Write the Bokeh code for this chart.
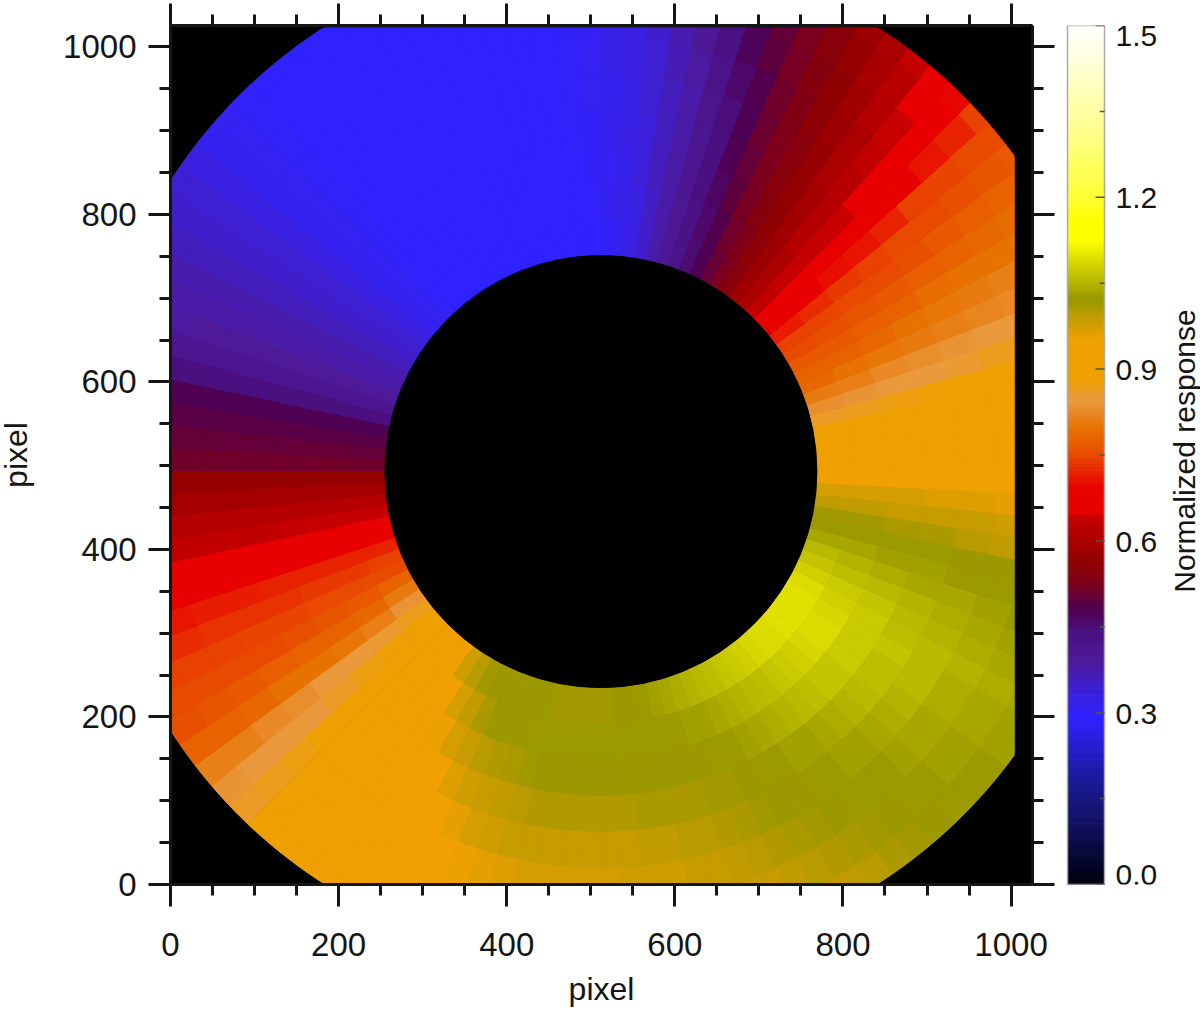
import numpy as np
from bokeh.core.properties import value
from bokeh.embed import file_html
from bokeh.layouts import row
from bokeh.models import ColumnDataSource, FixedTicker, LinearAxis, Range1d
from bokeh.plotting import figure
from bokeh.resources import INLINE
from bokeh.transform import linear_cmap

# Response: one row per 3 degree sector (counter-clockwise from +x),
# one column per ring going outward from the central disc.
sector_response = [
 [.93,.93,.93,.93,.93,.93,.93,.93,.93],
 [.92,.92,.92,.92,.92,.92,.92,.92,.92],
 [.905,.905,.91,.91,.91,.915,.92,.92,.92],
 [.885,.89,.89,.895,.90,.905,.91,.91,.915],
 [.865,.87,.875,.88,.885,.89,.895,.90,.90],
 [.836,.843,.85,.855,.86,.87,.875,.88,.885],
 [.81,.82,.83,.835,.84,.845,.85,.855,.86],
 [.79,.80,.805,.81,.82,.825,.83,.83,.835],
 [.78,.785,.79,.80,.805,.81,.815,.82,.82],
 [.77,.77,.775,.785,.795,.80,.80,.805,.81],
 [.755,.76,.765,.77,.775,.785,.79,.795,.80],
 [.74,.745,.75,.755,.76,.77,.775,.78,.785],
 [.71,.725,.735,.74,.75,.755,.76,.765,.77],
 [.675,.69,.70,.705,.72,.74,.745,.75,.755],
 [.66,.665,.67,.67,.67,.69,.705,.72,.74],
 [.63,.635,.635,.64,.645,.665,.67,.685,.695],
 [.60,.60,.61,.615,.62,.63,.64,.65,.665],
 [.575,.58,.585,.59,.60,.60,.61,.62,.635],
 [.545,.555,.56,.565,.57,.58,.585,.595,.60],
 [.525,.53,.54,.545,.55,.555,.56,.57,.58],
 [.50,.51,.52,.525,.53,.535,.54,.545,.555],
 [.48,.485,.495,.50,.505,.515,.52,.525,.53],
 [.455,.46,.465,.475,.48,.485,.495,.50,.51],
 [.425,.43,.44,.445,.45,.46,.47,.48,.48],
 [.40,.40,.405,.405,.415,.425,.435,.445,.455],
 [.375,.375,.375,.38,.38,.385,.395,.41,.42],
 [.35,.355,.36,.36,.36,.365,.37,.38,.39],
 [.33,.33,.335,.335,.34,.345,.35,.355,.365],
 [.315,.32,.32,.325,.325,.33,.33,.335,.34],
 [.30,.305,.31,.315,.315,.32,.32,.32,.325],
 [.29,.295,.30,.30,.305,.31,.31,.31,.315],
 [.29,.29,.29,.295,.295,.295,.30,.30,.30],
 [.29,.29,.29,.29,.29,.29,.29,.29,.29],
 [.29,.29,.29,.29,.29,.29,.29,.29,.29],
 [.29,.29,.29,.29,.29,.29,.29,.29,.29],
 [.29,.29,.29,.29,.29,.29,.29,.29,.29],
 [.29,.29,.29,.29,.29,.29,.29,.29,.29],
 [.29,.29,.29,.29,.29,.29,.29,.29,.29],
 [.29,.29,.29,.29,.29,.29,.29,.29,.29],
 [.29,.29,.29,.29,.29,.29,.29,.29,.29],
 [.29,.29,.29,.29,.29,.29,.29,.29,.29],
 [.29,.29,.29,.29,.29,.29,.29,.29,.29],
 [.29,.29,.29,.29,.29,.29,.29,.29,.29],
 [.29,.29,.29,.29,.29,.29,.29,.29,.29],
 [.295,.295,.295,.295,.295,.295,.295,.295,.295],
 [.305,.305,.305,.305,.305,.305,.305,.305,.305],
 [.315,.315,.315,.315,.315,.315,.315,.315,.315],
 [.33,.33,.33,.33,.33,.33,.33,.33,.33],
 [.34,.34,.34,.34,.34,.34,.34,.34,.34],
 [.35,.35,.35,.35,.35,.35,.35,.35,.35],
 [.36,.36,.36,.36,.36,.36,.36,.36,.36],
 [.37,.37,.37,.37,.37,.37,.37,.37,.37],
 [.38,.38,.38,.38,.38,.38,.38,.38,.38],
 [.39,.39,.39,.39,.39,.39,.385,.385,.385],
 [.41,.41,.41,.41,.41,.41,.41,.41,.41],
 [.44,.44,.44,.44,.44,.44,.44,.44,.44],
 [.48,.48,.48,.48,.48,.48,.48,.48,.48],
 [.49,.49,.49,.49,.49,.49,.49,.49,.49],
 [.50,.50,.50,.50,.50,.50,.50,.50,.50],
 [.515,.515,.515,.515,.515,.515,.515,.515,.515],
 [.57,.57,.57,.57,.57,.57,.57,.57,.57],
 [.59,.59,.59,.59,.59,.59,.59,.59,.59],
 [.61,.61,.61,.61,.61,.61,.61,.61,.61],
 [.635,.635,.635,.63,.63,.63,.625,.625,.625],
 [.665,.665,.665,.665,.665,.665,.665,.665,.665],
 [.69,.685,.68,.68,.675,.67,.67,.665,.665],
 [.72,.72,.715,.715,.71,.71,.705,.70,.70],
 [.74,.735,.735,.73,.73,.73,.725,.72,.72],
 [.755,.75,.75,.745,.745,.74,.74,.74,.735],
 [.78,.77,.765,.76,.755,.755,.75,.75,.75],
 [.81,.79,.785,.78,.775,.77,.765,.76,.76],
 [.84,.82,.805,.80,.80,.79,.785,.78,.775],
 [.87,.86,.85,.845,.835,.83,.82,.815,.81],
 [.895,.88,.875,.865,.855,.85,.845,.84,.835],
 [.92,.91,.90,.89,.885,.875,.87,.865,.86],
 [.93,.92,.92,.915,.91,.90,.89,.885,.885],
 [.935,.93,.925,.92,.92,.915,.91,.905,.905],
 [.95,.935,.93,.925,.92,.92,.92,.92,.92],
 [.98,.95,.935,.93,.925,.92,.92,.92,.92],
 [1.0,.975,.96,.94,.93,.925,.92,.92,.92],
 [1.015,.995,.975,.955,.94,.93,.92,.92,.92],
 [1.025,1.01,.99,.97,.955,.94,.93,.925,.92],
 [1.025,1.02,1.0,.98,.965,.95,.94,.93,.93],
 [1.025,1.025,1.005,.99,.975,.96,.945,.94,.935],
 [1.02,1.025,1.01,.995,.98,.965,.955,.95,.94],
 [1.02,1.026,1.015,1.0,.985,.97,.96,.955,.95],
 [1.015,1.026,1.02,1.005,.985,.975,.965,.96,.955],
 [1.015,1.026,1.02,1.005,.99,.975,.965,.96,.955],
 [1.015,1.026,1.02,1.005,.99,.975,.965,.96,.955],
 [1.015,1.026,1.02,1.005,.99,.975,.965,.96,.955],
 [1.015,1.026,1.02,1.005,.99,.975,.965,.96,.955],
 [1.02,1.026,1.02,1.005,.99,.98,.97,.96,.955],
 [1.025,1.026,1.02,1.01,.995,.98,.97,.965,.96],
 [1.03,1.026,1.02,1.01,.995,.98,.97,.965,.96],
 [1.035,1.028,1.02,1.01,1.0,.985,.975,.97,.965],
 [1.04,1.03,1.022,1.012,1.0,.99,.98,.97,.965],
 [1.045,1.033,1.024,1.015,1.005,.995,.985,.975,.97],
 [1.052,1.037,1.026,1.018,1.01,1.0,.99,.98,.975],
 [1.06,1.042,1.03,1.022,1.015,1.005,.995,.985,.98],
 [1.066,1.047,1.034,1.026,1.02,1.01,1.0,.99,.985],
 [1.072,1.053,1.04,1.03,1.024,1.015,1.005,.995,.99],
 [1.078,1.06,1.045,1.032,1.026,1.02,1.01,1.0,.995],
 [1.083,1.066,1.05,1.036,1.028,1.026,1.018,1.008,1.0],
 [1.088,1.072,1.056,1.04,1.032,1.026,1.024,1.015,1.005],
 [1.092,1.078,1.062,1.046,1.036,1.03,1.026,1.022,1.012],
 [1.095,1.082,1.067,1.052,1.042,1.034,1.028,1.026,1.018],
 [1.098,1.086,1.072,1.058,1.047,1.038,1.032,1.028,1.022],
 [1.10,1.09,1.076,1.063,1.052,1.042,1.036,1.03,1.026],
 [1.10,1.09,1.078,1.066,1.055,1.045,1.04,1.034,1.03],
 [1.098,1.088,1.078,1.068,1.058,1.048,1.042,1.036,1.032],
 [1.09,1.082,1.074,1.066,1.058,1.05,1.044,1.038,1.034],
 [1.08,1.074,1.068,1.06,1.054,1.047,1.042,1.036,1.032],
 [1.068,1.062,1.058,1.052,1.046,1.042,1.036,1.032,1.03],
 [1.056,1.05,1.046,1.042,1.038,1.034,1.03,1.028,1.026],
 [1.042,1.04,1.036,1.033,1.03,1.027,1.026,1.024,1.02],
 [1.03,1.028,1.027,1.026,1.025,1.02,1.015,1.01,1.005],
 [1.015,1.015,1.012,1.01,1.0,.995,.99,.985,.98],
 [.995,.995,.99,.985,.985,.98,.975,.97,.97],
 [.975,.975,.975,.97,.97,.965,.965,.96,.96],
 [.945,.945,.945,.945,.945,.945,.945,.945,.945],
]
axis_ticks = [0, 200, 400, 600, 800, 1000]
colorbar_labels = ["0.0", "0.3", "0.6", "0.9", "1.2", "1.5"]
colorbar_values = [0.0, 0.3, 0.6, 0.9, 1.2, 1.5]
colorbar_minor = [.15, .45, .75, 1.05, 1.35]

# colour scale
stops = [(0, "#00000f"), (.12, "#14146e"), (.18, "#1a1a98"), (.288, "#2f22ff"), (.33, "#3a20e0"),
         (.387, "#4e1a9a"), (.44, "#4a1080"), (.48, "#500050"), (.52, "#7a0020"), (.55, "#8a0008"),
         (.56, "#900000"), (.645, "#cc0000"), (.646, "#e80000"), (.689, "#e80000"), (.74, "#e84000"),
         (.80, "#e87200"), (.85, "#ea9a40"), (.886, "#eea000"), (.955, "#f0a000"), (1.026, "#989800"),
         (1.13, "#ffff00"), (1.165, "#ffff00"), (1.2, "#ffff30"), (1.3, "#ffff80"), (1.5, "#ffffff")]
lv = np.linspace(0, 1.5, 256)
sv = [s[0] for s in stops]
rgb = np.array([[int(s[1][i:i + 2], 16) for i in (1, 3, 5)] for s in stops], float)
palette = ["#%02x%02x%02x" % tuple(int(round(np.interp(v, sv, rgb[:, k]))) for k in range(3)) for v in lv]

INK = "#151515"
FONT = "Liberation Sans"
CX, CY, R_IN = 512, 493, 257
RING = 43
n_sec, n_ring = len(sector_response), len(sector_response[0])

p = figure(width=1065, height=1011, x_range=Range1d(0, 1025.5), y_range=Range1d(0, 1025.5),
           output_backend="svg", toolbar_location=None, min_border_left=175, min_border_right=28,
           min_border_top=24, min_border_bottom=124, background_fill_color="black",
           outline_line_color=None, x_axis_label="pixel", y_axis_label="pixel")
p.grid.visible = False

start, end, inner, outer, val = [], [], [], [], []
for i, rw in enumerate(sector_response):
    for j, v in enumerate(rw):
        start.append(np.radians(i * 360 / n_sec))
        end.append(np.radians((i + 1) * 360 / n_sec))
        inner.append(R_IN + j * RING)
        outer.append(R_IN + (j + 1) * RING)
        val.append(v)
src = ColumnDataSource(dict(x=[CX] * len(val), y=[CY] * len(val), s=start, e=end, a=inner, b=outer, v=val))
cmap = linear_cmap("v", palette, 0, 1.5)
p.annular_wedge("x", "y", inner_radius="a", outer_radius="b", start_angle="s", end_angle="e", source=src,
                fill_color=cmap, line_color=cmap, line_width=1)

# black surround: everything outside the detector's clipped circle
th = np.linspace(0, 2 * np.pi, 721)
hx = np.clip(512 + 609 * np.cos(th), 0, 1005).tolist()
hy = np.clip(512 + 609 * np.sin(th), 0, 1024).tolist()
p.multi_polygons(xs=[[[[-5, 1035, 1035, -5], hx]]], ys=[[[[-5, -5, 1035, 1035], hy]]],
                 fill_color="black", line_color="black", line_width=1)
p.circle([CX], [CY], radius=R_IN, fill_color="black", line_color="black")

minor = list(range(0, 1001, 50))
def style(ax, labels=True):
    ax.ticker = FixedTicker(ticks=axis_ticks, minor_ticks=minor)
    ax.axis_line_color = INK
    ax.axis_line_width = 3
    ax.major_tick_line_color = INK
    ax.major_tick_line_width = 3
    ax.minor_tick_line_color = INK
    ax.minor_tick_line_width = 3
    ax.major_tick_out, ax.major_tick_in = 22, 0
    ax.minor_tick_out, ax.minor_tick_in = 11, 0
    if labels:
        ax.major_label_text_font = FONT
        ax.major_label_text_font_size = "33px"
        ax.major_label_text_color = INK
        ax.axis_label_text_font = FONT
        ax.axis_label_text_font_size = "32px"
        ax.axis_label_text_font_style = "normal"
        ax.axis_label_text_color = INK
    else:
        ax.major_label_overrides = {t: "" for t in axis_ticks}
        ax.major_label_text_font_size = "1px"
        ax.major_label_standoff = 0

style(p.xaxis[0])
style(p.yaxis[0])
p.xaxis[0].major_label_standoff = 26
p.xaxis[0].axis_label_standoff = 12
p.yaxis[0].major_label_standoff = 12
p.yaxis[0].axis_label_standoff = 26
for side in ("above", "right"):
    a = LinearAxis()
    style(a, labels=False)
    p.add_layout(a, side)

# colour bar: its frame spans the whole column, the bar itself is x = 0..1
cb = figure(width=140, height=1011, x_range=Range1d(-7 / 37, 133 / 37), y_range=Range1d(0, 1.5),
            output_backend="svg", toolbar_location=None, min_border_left=0, min_border_right=0,
            min_border_top=27, min_border_bottom=124, outline_line_color=None,
            x_axis_location=None, y_axis_location=None)
cb.grid.visible = False
cb_src = ColumnDataSource(dict(b=lv[:-1], t=lv[1:], v=(lv[:-1] + lv[1:]) / 2))
cm2 = linear_cmap("v", palette, 0, 1.5)
cb.quad(left=0, right=1, bottom="b", top="t", source=cb_src, fill_color=cm2, line_color=cm2, line_width=1)
cb.quad(left=[0], right=[1], bottom=[0], top=[1.5], fill_color=None, line_color="#aaaaaa", line_width=1.5)
cb.segment(x0=[.76] * 6, x1=[1] * 6, y0=colorbar_values, y1=colorbar_values, line_color="#555544", line_width=1.5)
cb.segment(x0=[.87] * 5, x1=[1] * 5, y0=colorbar_minor, y1=colorbar_minor, line_color="#555544", line_width=1.5)
offs = [-10 if y == 1.5 else (10 if y == 0 else -1) for y in colorbar_values]
cb.text(x=[1.3] * 6, y=colorbar_values, text=colorbar_labels, y_offset=[-o for o in offs],
        text_font=value(FONT), text_font_size=value("30px"), text_color=INK, text_baseline="middle",
        text_align="left")
cb.text(x=[3.16], y=[0.757], text=["Normalized response"], angle=np.pi / 2, text_font=value(FONT),
        text_font_size=value("30px"), text_color=INK, text_baseline="middle", text_align="center")

layout = row(p, cb, spacing=0, styles={"position": "absolute", "left": "-5px", "top": "-2px"})
open("out.html", "w").write(file_html(layout, INLINE))
